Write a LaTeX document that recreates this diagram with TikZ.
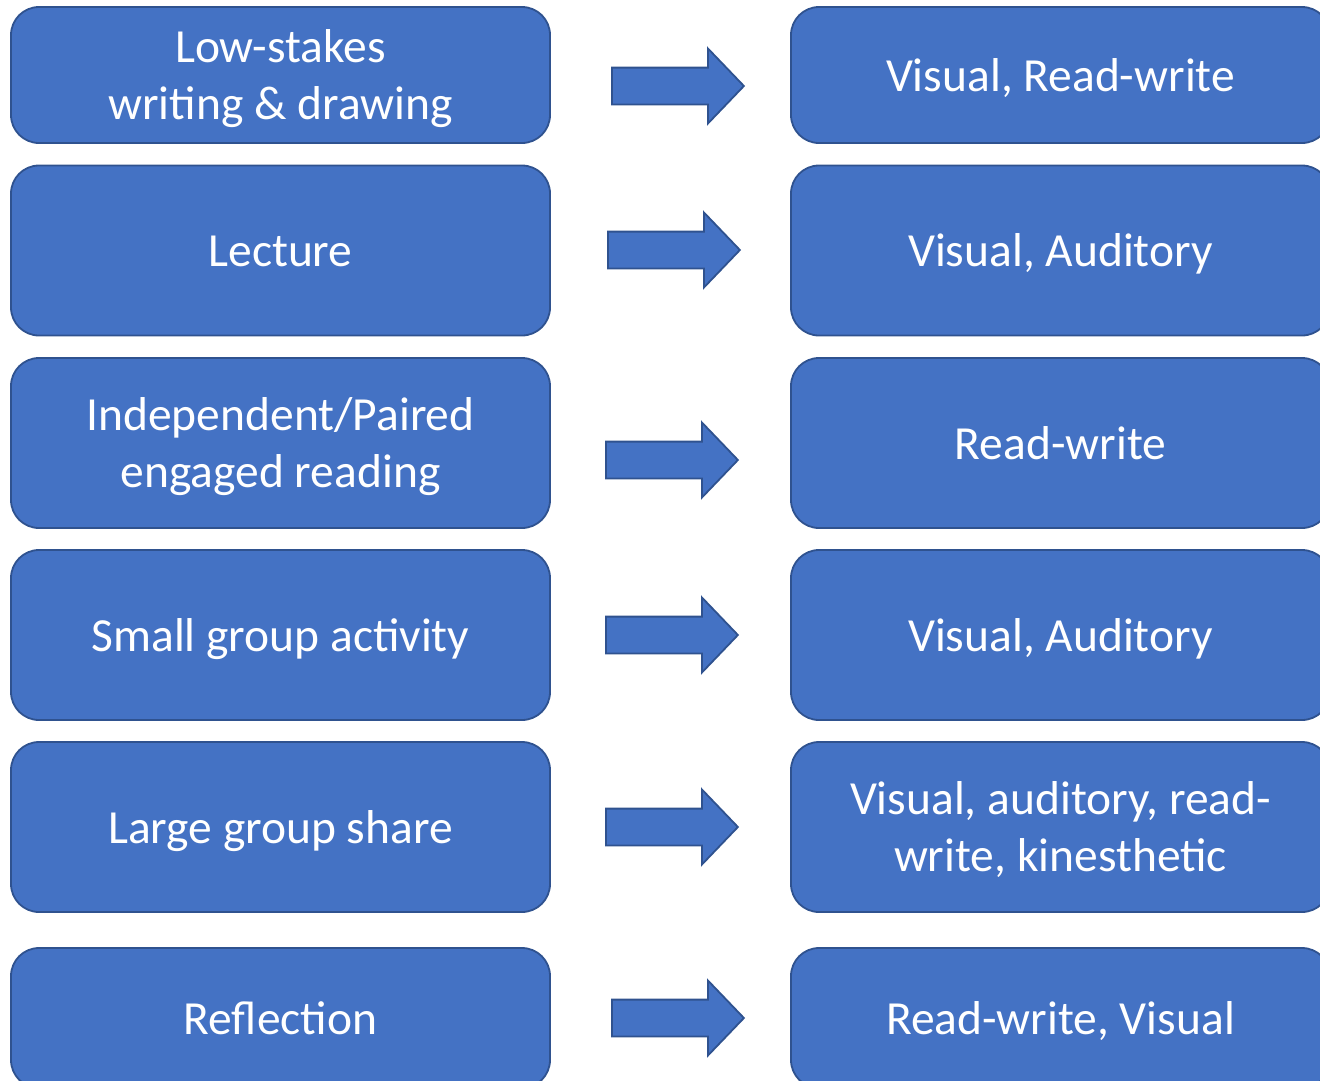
\documentclass[tikz,border=0pt]{standalone}
\usepackage{fontspec}
\setmainfont{Carlito}
\usetikzlibrary{shapes.arrows}
\definecolor{boxblue}{HTML}{4472C4}
\definecolor{edgeblue}{HTML}{2F528F}
\begin{document}
\begin{tikzpicture}[x=1pt,y=-1pt]

    \tikzset{
      stylebox/.style={
        draw=edgeblue,
        fill=boxblue,
        line width=1.8pt,
        rounded corners=28pt,
        minimum width=539pt,
        minimum height=170pt,
        inner sep=0pt,
        align=center,
        text=white,
        font=\fontsize{47.5}{57}\selectfont,
        text depth=12.8pt,
      },
      oneline/.style={text height=45.2pt},
      twoline/.style={text height=102.2pt},
      bigarrow/.style={
        single arrow,
        draw=edgeblue,
        fill=boxblue,
        line width=1.8pt,
        minimum height=132pt,
        single arrow head extend=19pt,
        single arrow tip angle=92.4,
        inner xsep=0pt,
        inner ysep=17.5pt,
        anchor=west,
      },
    }
    \useasboundingbox (0,0) rectangle (1320,1080);
    \clip (0,0) rectangle (1320,1080);

	% teaching activities
	\node[stylebox,twoline,minimum height=136pt] (low) at (280.5,75) {Low-stakes\\writing \& drawing};
	\node[stylebox,oneline] (lecture) at (280.5,250.5) {Lecture};
	\node[stylebox,twoline] (reading) at (280.5,443) {Independent/Paired\\engaged reading};
	\node[stylebox,oneline] (small) at (280.5,635) {Small group activity};
	\node[stylebox,oneline] (large) at (280.5,827) {Large group share};
	\node[stylebox,oneline,minimum height=140pt] (reflect) at (280.5,1018) {Reflection};

	% learning styles
	\node[stylebox,oneline,minimum height=136pt] (lowstyle) at (1060.5,75) {Visual, Read-write};
	\node[stylebox,oneline] (lecturestyle) at (1060.5,250.5) {Visual, Auditory};
	\node[stylebox,oneline] (readingstyle) at (1060.5,443) {Read-write};
	\node[stylebox,oneline] (smallstyle) at (1060.5,635) {Visual, Auditory};
	\node[stylebox,twoline] (largestyle) at (1060.5,827) {Visual, auditory, read-\\write, kinesthetic};
	\node[stylebox,oneline,minimum height=140pt] (reflectstyle) at (1060.5,1018) {Read-write, Visual};

	% block arrows
	\node[bigarrow] (a1) at (611,86) {};
	\node[bigarrow] (a2) at (607,250) {};
	\node[bigarrow] (a3) at (605,460) {};
	\node[bigarrow] (a4) at (605,635) {};
	\node[bigarrow] (a5) at (605,827) {};
	\node[bigarrow] (a6) at (611,1018) {};

\end{tikzpicture}
\end{document}
